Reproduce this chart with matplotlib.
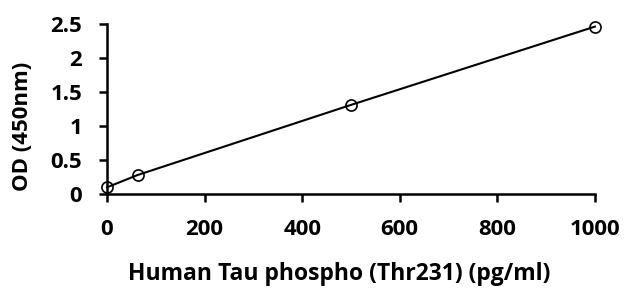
import matplotlib
matplotlib.use("Agg")
import matplotlib.pyplot as plt

conc = [0, 62.5, 500, 1000]
od = [0.10, 0.28, 1.31, 2.46]
xticks = [0, 200, 400, 600, 800, 1000]
yticks = [0, 0.5, 1, 1.5, 2, 2.5]
ytick_labels = ["0", "0.5", "1", "1.5", "2", "2.5"]

plt.rcParams['font.family'] = ['Open Sans', 'DejaVu Sans']
plt.rcParams['font.weight'] = 'bold'

fig = plt.figure(figsize=(6.27, 2.88), dpi=100)
ax = fig.add_axes([0.1707, 0.326, 0.778, 0.591])
ax.plot(conc, od, color='black', lw=1.5, marker='o', ms=8, mfc='none', mec='black', mew=1.2)
ax.set_xlim(0, 1000)
ax.set_ylim(0, 2.5)
ax.set_xticks(xticks)
ax.set_yticks(yticks)
ax.set_yticklabels(ytick_labels)
for s in ['top', 'right']:
    ax.spines[s].set_visible(False)
for s in ['left', 'bottom']:
    ax.spines[s].set_linewidth(1.8)
ax.tick_params(direction='out', length=6, width=1.8, labelsize=16)
ax.tick_params(axis='y', pad=12)
ax.tick_params(axis='x', pad=12)
for lab in ax.get_xticklabels() + ax.get_yticklabels():
    lab.set_fontweight('bold')
ax.set_xlabel('Human Tau phospho (Thr231) (pg/ml)', fontsize=16.5, fontweight='bold')
ax.set_ylabel('OD (450nm)', fontsize=16, fontweight='bold')
ax.xaxis.set_label_coords(0.475, -0.40)
ax.yaxis.set_label_coords(-0.152, 0.40)
for l in ax.lines:
    l.set_clip_on(False)
fig.savefig('out.png', dpi=100)
